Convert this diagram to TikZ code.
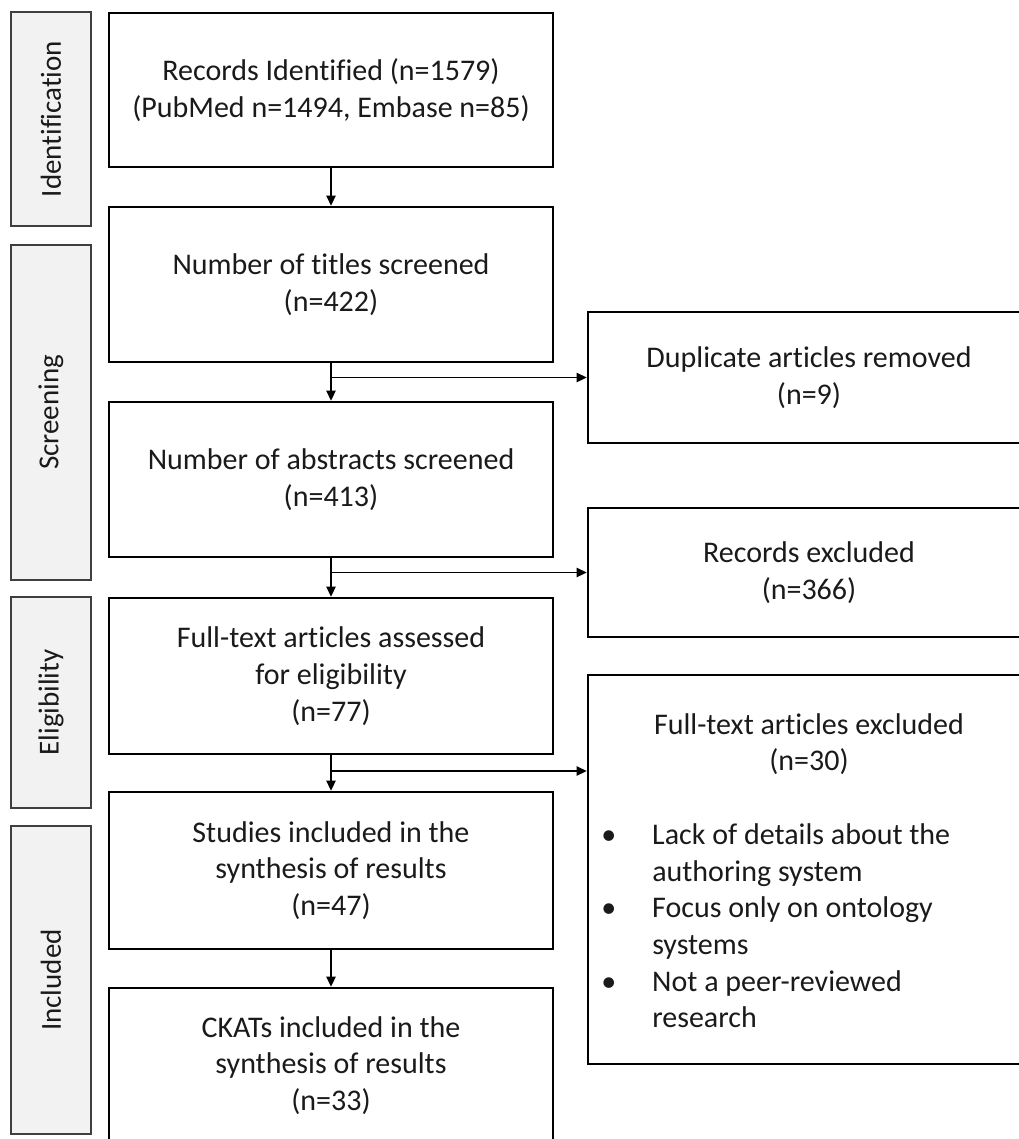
\documentclass[tikz,border=0pt]{standalone}
\usepackage{fontspec}
\setmainfont{Carlito}[Ligatures=NoCommon]
\usetikzlibrary{arrows.meta}
\definecolor{lblfill}{HTML}{F2F2F2}
\definecolor{lbldraw}{HTML}{3F3F3F}
\definecolor{ink}{HTML}{1A1A1A}
\begin{document}
\begin{tikzpicture}[x=0.75pt,y=-0.75pt,
  txt/.style={font=\fontsize{22.5pt}{27.5pt}\selectfont, text=ink},
  mainbox/.style={txt, draw=black, line width=2pt, inner sep=0pt, align=center, minimum width=333pt},
  sidebox/.style={txt, draw=black, line width=2pt, inner sep=0pt, align=center, minimum width=331.5pt},
  phase/.style={font=\fontsize{21.75pt}{26pt}\selectfont, text=ink, draw=lbldraw, fill=lblfill, line width=1.3pt, inner sep=0pt, rotate=90, minimum height=60pt},
  flow/.style={line width=1.1pt, draw=black},
  arr/.style={flow, -{Triangle[length=7.5pt,width=7pt]}}
]
\useasboundingbox (0,0) rectangle (1019,1139);
\clip (0,0) rectangle (1019,1139);

% phase labels
\node[phase, minimum width=160.5pt] (l1) at (51,119) {Identification};
\node[phase, minimum width=251.25pt] (l2) at (51,412.5) {Screening};
\node[phase, minimum width=158.25pt] (l3) at (51,702.5) {Eligibility};
\node[phase, minimum width=231pt] (l4) at (51,980) {Included};

% main column
\node[mainbox, minimum height=115.5pt] (b1) at (331,90) {Records Identified (n=1579)\\(PubMed n=1494, Embase n=85)};
\node[mainbox, minimum height=116.25pt] (b2) at (331,284.5) {Number of titles screened\\(n=422)};
\node[mainbox, minimum height=116.25pt] (b3) at (331,479.5) {Number of abstracts screened\\(n=413)};
\node[mainbox, minimum height=117pt] (b4) at (331,676) {Full-text articles assessed\\for eligibility\\(n=77)};
\node[mainbox, minimum height=117.75pt] (b5) at (331,870.5) {Studies included in the\\synthesis of results\\(n=47)};
\node[mainbox, minimum height=116.25pt] (b6) at (331,1065.5) {CKATs included in the\\synthesis of results\\(n=33)};

% side column
\node[sidebox, minimum height=98.25pt] (r1) at (809,377.5) {Duplicate articles removed\\(n=9)};
\node[sidebox, minimum height=96.75pt] (r2) at (809,572.5) {Records excluded\\(n=366)};
\node[sidebox, minimum height=291.75pt] (r3) at (809,869.5) {};
\node[txt, align=center, inner sep=0pt] (r3t) at (809,744) {Full-text articles excluded\\(n=30)};
\node[txt, align=left, inner sep=0pt, anchor=west] (r3b) at (652,926)
  {\llap{\textbullet\hspace{27pt}}Lack of details about the\\authoring system\\
   \llap{\textbullet\hspace{27pt}}Focus only on ontology\\systems\\
   \llap{\textbullet\hspace{27pt}}Not a peer-reviewed\\research};

% junctions
\coordinate (j1) at (331,377.5);
\coordinate (j2) at (331,572.5);
\coordinate (j3) at (331,771);

% connectors
\draw[arr] (b1) -- (b2);
\draw[arr] (b2) -- (b3);
\draw[arr] (b3) -- (b4);
\draw[arr] (b4) -- (b5);
\draw[arr] (b5) -- (b6);
\draw[arr] (j1) -- (r1.west);
\draw[arr] (j2) -- (r2.west);
\draw[arr] (j3) -- (j3 -| r3.west);
\end{tikzpicture}
\end{document}
